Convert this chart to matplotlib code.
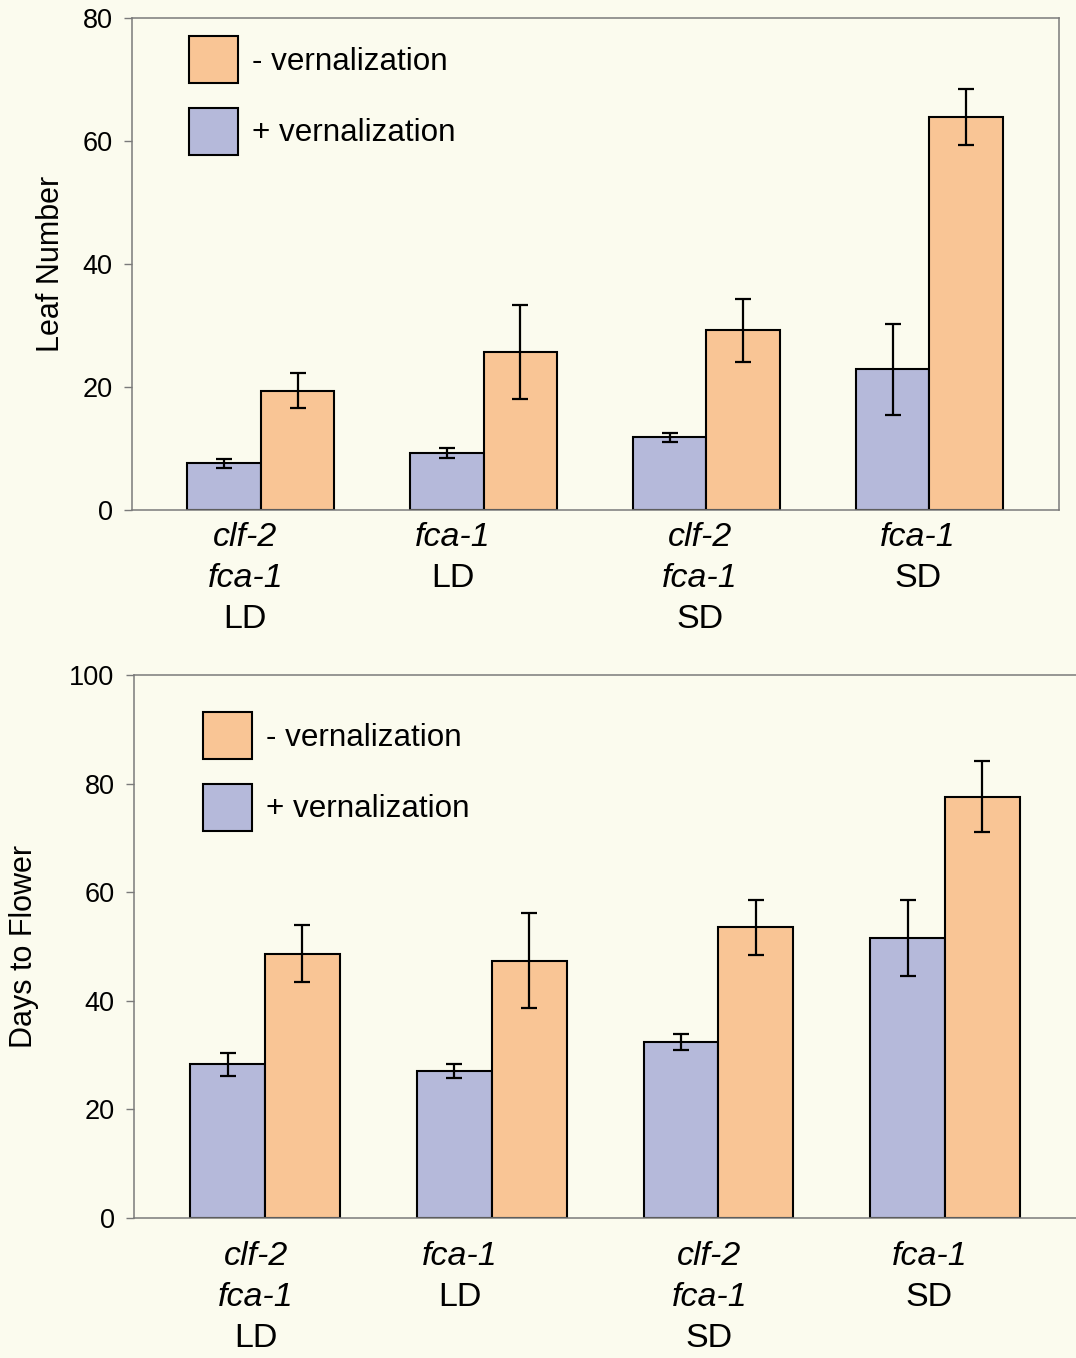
import matplotlib
matplotlib.use("Agg")
import matplotlib.pyplot as plt
from matplotlib.patches import Patch
import numpy as np

plt.rcParams['font.family'] = ['Liberation Sans', 'DejaVu Sans']

# Genotype / photoperiod groups (italic gene names, upright day length)
groups = [
    ["clf-2", "fca-1", "LD"],
    ["fca-1", "LD"],
    ["clf-2", "fca-1", "SD"],
    ["fca-1", "SD"],
]
italic_words = {"clf-2", "fca-1"}

# Leaf number at flowering
leaf_plus = [7.6, 9.3, 11.8, 22.9]
leaf_plus_err = [0.7, 0.8, 0.8, 7.4]
leaf_minus = [19.4, 25.7, 29.2, 63.9]
leaf_minus_err = [2.8, 7.6, 5.1, 4.6]

# Days to flowering
days_plus = [28.3, 27.1, 32.4, 51.6]
days_plus_err = [2.1, 1.3, 1.4, 7.0]
days_minus = [48.7, 47.4, 53.5, 77.6]
days_minus_err = [5.2, 8.7, 5.0, 6.6]

legend_labels = ["- vernalization", "+ vernalization"]

BG = "#fbfbee"
BLUE = "#b5b9da"
ORANGE = "#f9c595"
SPINE = "#7a7a7a"

fig = plt.figure(figsize=(10.76, 13.58), dpi=100, facecolor=BG)


def draw_panel(ax, plus, plus_err, minus, minus_err, ymax, ylabel,
               label_nudge, first_line_pt, ylabel_x, legend_anchor, right_spine):
    x = np.arange(len(groups))
    w = 0.33
    ebkw = dict(ecolor="black", elinewidth=1.6, capsize=5.5, capthick=1.6)
    ax.bar(x - w / 2, plus, w, yerr=plus_err, color=BLUE, edgecolor="black",
           linewidth=1.5, error_kw=ebkw, zorder=2)
    ax.bar(x + w / 2, minus, w, yerr=minus_err, color=ORANGE, edgecolor="black",
           linewidth=1.5, error_kw=ebkw, zorder=2)

    ax.set_facecolor(BG)
    ax.set_xlim(-0.578, len(groups) - 1 + 0.582)
    ax.set_ylim(0, ymax)
    ax.set_yticks(np.arange(0, ymax + 1, 20))
    ax.set_xticks([])
    ax.tick_params(axis="y", length=6, width=1, color=SPINE, pad=8,
                   labelsize=19.5)
    for name, sp in ax.spines.items():
        sp.set_color(SPINE)
        sp.set_linewidth(1.1)
    ax.spines["right"].set_visible(right_spine)

    ax.set_ylabel(ylabel, fontsize=22)
    ax.yaxis.label.set_va("center")
    ax.yaxis.set_label_coords(ylabel_x, 0.5)

    # Multi-line category labels under each group
    line_step = 29.5
    for i, lines in enumerate(groups):
        for j, word in enumerate(lines):
            ax.annotate(word, xy=(x[i] + label_nudge[i], 0),
                        xycoords=("data", "axes fraction"),
                        xytext=(0, -first_line_pt - j * line_step),
                        textcoords="offset points", ha="center", va="center",
                        fontsize=24.5,
                        style="italic" if word in italic_words else "normal",
                        annotation_clip=False)

    handles = [Patch(facecolor=ORANGE, edgecolor="black", linewidth=1.5),
               Patch(facecolor=BLUE, edgecolor="black", linewidth=1.5)]
    ax.legend(handles, legend_labels, loc="upper left",
              bbox_to_anchor=legend_anchor, frameon=False, fontsize=22.6,
              handlelength=1.56, handleheight=1.93, handletextpad=0.45,
              labelspacing=0.78, borderpad=0, borderaxespad=0)


ax1 = fig.add_axes([132 / 1076, 1 - 510 / 1358, (1059 - 132) / 1076, (510 - 18) / 1358])
draw_panel(ax1, leaf_plus, leaf_plus_err, leaf_minus, leaf_minus_err, 80,
           "Leaf Number", [-0.07, -0.14, -0.03, -0.05], 19.5,
           (51 - 132) / 927, ((189 - 132) / 927, 1 - (36 - 18) / 492), True)

ax2 = fig.add_axes([134 / 1076, 1 - 1218 / 1358, (1077 - 134) / 1076, (1218 - 675) / 1358])
draw_panel(ax2, days_plus, days_plus_err, days_minus, days_minus_err, 100,
           "Days to Flower", [-0.04, -0.14, -0.04, -0.07], 28,
           (24 - 134) / 943, ((203 - 134) / 943, 1 - (712 - 675) / 543), False)

fig.savefig("out.png", dpi=100, facecolor=BG)
